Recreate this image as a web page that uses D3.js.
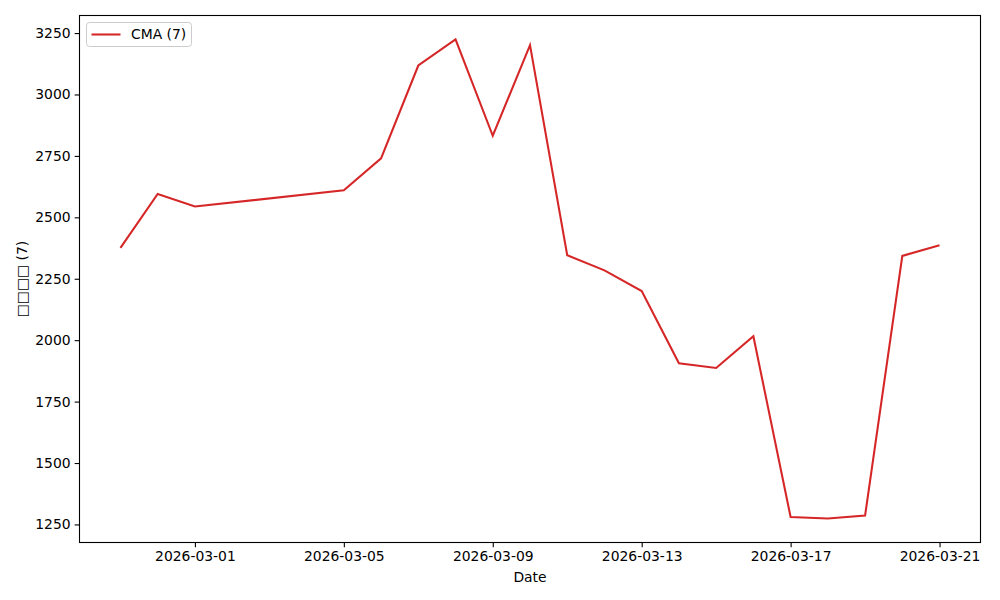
<!DOCTYPE html>
<html>
<head>
<meta charset="utf-8">
<script src="https://cdn.jsdelivr.net/npm/d3@7"></script>
<style>
  body { margin: 0; background: #fff; }
  svg { display: block; font-family: "DejaVu Sans", sans-serif; }
</style>
</head>
<body>
<svg id="chart" width="1000" height="600"></svg>
<script>
const dates = ["2026-02-27","2026-02-28","2026-03-01","2026-03-05","2026-03-06","2026-03-07","2026-03-08","2026-03-09","2026-03-10","2026-03-11","2026-03-12","2026-03-13","2026-03-14","2026-03-15","2026-03-16","2026-03-17","2026-03-18","2026-03-19","2026-03-20","2026-03-21"];
const cmaValues = [2376, 2595, 2544, 2610, 2740, 3118, 3224, 2832, 3201, 2346, 2284, 2200, 1906, 1887, 2016, 1280, 1274, 1286, 2343, 2386];
const xTickLabels = ["2026-03-01","2026-03-05","2026-03-09","2026-03-13","2026-03-17","2026-03-21"];
const yTickValues = [1250, 1500, 1750, 2000, 2250, 2500, 2750, 3000, 3250];
const seriesName = "CMA (7)";
const yLabel = "□□□□ (7)";
const xLabel = "Date";

const parse = d3.utcParse("%Y-%m-%d");
const data = dates.map((d, i) => ({ date: parse(d), value: cmaValues[i] }));

const svg = d3.select("#chart");
const pLeft = 79.5, pRight = 980.5, pTop = 15.5, pBottom = 542.5;

const xExt = d3.extent(data, d => d.date);
const xSpan = xExt[1] - xExt[0];
const x = d3.scaleUtc()
  .domain([new Date(+xExt[0] - xSpan * 0.05), new Date(+xExt[1] + xSpan * 0.05)])
  .range([pLeft, pRight]);

const yExt = d3.extent(data, d => d.value);
const ySpan = yExt[1] - yExt[0];
const y = d3.scaleLinear()
  .domain([yExt[0] - ySpan * 0.05, yExt[1] + ySpan * 0.05])
  .range([pBottom, pTop]);

const line = d3.line().x(d => x(d.date)).y(d => y(d.value));

svg.append("path")
  .datum(data)
  .attr("fill", "none")
  .attr("stroke", "#d62728")
  .attr("stroke-width", 2.08)
  .attr("stroke-linejoin", "miter")
  .attr("d", line);

// axes
const xAxis = d3.axisBottom(x)
  .tickValues(xTickLabels.map(parse))
  .tickFormat(d3.utcFormat("%Y-%m-%d"))
  .tickSizeOuter(0).tickSize(4.86).tickPadding(4);
const gx = svg.append("g").attr("transform", `translate(0,${pBottom})`).call(xAxis);

const yAxis = d3.axisLeft(y)
  .tickValues(yTickValues)
  .tickFormat(d3.format("d"))
  .tickSizeOuter(0).tickSize(4.86).tickPadding(4);
const gy = svg.append("g").attr("transform", `translate(${pLeft},0)`).call(yAxis);

[gx, gy].forEach(g => {
  g.select(".domain").remove();
  g.selectAll(".tick line").attr("stroke", "#000").attr("stroke-width", 1.1);
  g.selectAll(".tick text").attr("fill", "#000").style("font-size", "13.9px").style("font-family", "DejaVu Sans, sans-serif");
});

// frame
svg.append("rect")
  .attr("x", pLeft).attr("y", pTop)
  .attr("width", pRight - pLeft).attr("height", pBottom - pTop)
  .attr("fill", "none").attr("stroke", "#000").attr("stroke-width", 1.1);

// axis labels
svg.append("text")
  .attr("x", (pLeft + pRight) / 2).attr("y", 582)
  .attr("text-anchor", "middle")
  .attr("fill", "#000")
  .style("font-size", "13.9px")
  .text(xLabel);

svg.append("text")
  .attr("transform", `translate(27,${(pTop + pBottom) / 2}) rotate(-90)`)
  .attr("text-anchor", "middle")
  .attr("fill", "#000")
  .style("font-size", "13.9px")
  .text(yLabel);

// legend
const lg = svg.append("g").attr("transform", "translate(86.5,22.5)");
lg.append("rect")
  .attr("width", 105).attr("height", 24).attr("rx", 3)
  .attr("fill", "#fff").attr("fill-opacity", 0.8)
  .attr("stroke", "#cccccc").attr("stroke-width", 1);
lg.append("line")
  .attr("x1", 5).attr("x2", 34).attr("y1", 12).attr("y2", 12)
  .attr("stroke", "#d62728").attr("stroke-width", 2.08);
lg.append("text")
  .attr("x", 44.5).attr("y", 16.8)
  .attr("fill", "#000")
  .style("font-size", "13.9px")
  .text(seriesName);
</script>
</body>
</html>
